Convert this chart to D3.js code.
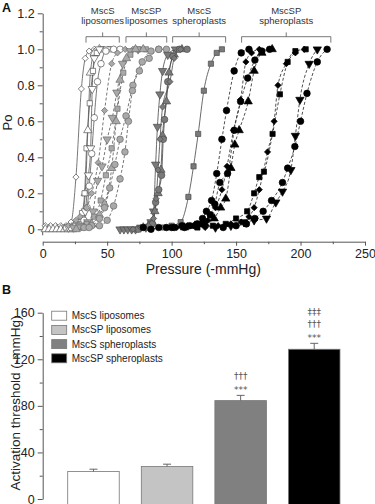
<!DOCTYPE html>
<html>
<head>
<meta charset="utf-8">
<script src="https://cdn.jsdelivr.net/npm/d3@7"></script>
<style>
body { margin: 0; background: #fff; }
svg { display: block; font-family: "Liberation Sans", Arial, sans-serif; }
</style>
</head>
<body>
<svg id="chart" width="375" height="504"></svg>
<script>
// ---------- Panel A data: [pressure (-mmHg), Po] ----------
// MscS liposomes (white, solid fits)
const wDiamond = [[2,0.02],[6,0.02],[10,0.02],[14,0.02],[18,0.02],[22,0.04],[25.8,0.29],[30,0.78],[33,0.95],[36,0.99],[40,1.0]];
const wTriUp = [[2,0],[5,0],[8,0],[11,0],[14,0],[17,0],[20,0],[23,0],[26,0.01],[30,0.05],[33,0.2],[35,0.55],[37,0.87],[40,0.98],[44,1.0]];
const wSquare = [[18,0.01],[24,0.02],[28,0.04],[30.5,0.09],[32.5,0.2],[34,0.45],[36.5,0.7],[39,0.88],[42,0.98],[46,1.0],[52,1.0]];
const wTriDown = [[20,0.01],[26,0.02],[30,0.03],[33,0.1],[35.5,0.3],[37.2,0.45],[38.4,0.78],[40,0.95],[44,1.0],[50,1.0]];
const wCircle = [[22,0.01],[28,0.02],[32,0.05],[34.5,0.12],[36.1,0.24],[38,0.42],[40,0.62],[42.5,0.82],[45.2,0.92],[49,0.99],[55,1.0],[60,1.0]];

// MscSP liposomes (light grey, dashed fits)
const lDiamond = [[20,0.02],[25.8,0.05],[29,0.07],[34,0.12],[38,0.2],[43,0.37],[48,0.66],[53.5,0.92],[58,0.98],[64,1.0],[70,1.0]];
const lTriDown = [[24,0.01],[30,0.02],[35,0.04],[39,0.1],[42.6,0.27],[46,0.35],[50,0.5],[54,0.62],[57.5,0.76],[62,0.92],[68,0.99],[74,1.0]];
const lSquare = [[28,0.01],[34,0.03],[40,0.07],[45,0.16],[49,0.3],[53.5,0.45],[58,0.67],[62.5,0.87],[68,0.97],[74,1.0],[80,1.0]];
const lTriUp = [[26,0],[32,0.01],[38,0.03],[44,0.08],[48,0.14],[53.5,0.34],[57,0.6],[60,0.83],[65,0.95],[72,1.0],[78,1.0]];
const lCircle = [[32,0.01],[38,0.02],[44,0.06],[48,0.12],[52,0.23],[56,0.36],[60,0.5],[64.6,0.63],[70,0.8],[77.2,0.93],[84,0.99],[90,1.0]];
const lCircle2 = [[36,0.01],[44,0.02],[50,0.05],[55,0.13],[60,0.28],[63.8,0.43],[66.5,0.6],[69.6,0.77],[75,0.88],[82.6,0.95],[90,1.0],[96,1.0]];

// MscS spheroplasts (dark grey, solid fits)
const dTriDown = [[60,0],[63,0],[66,0],[69,0],[72,0],[76,0.01],[80,0.01],[84,0.04],[86,0.1],[87.6,0.36],[89,0.57],[90.9,0.75],[93,0.88],[97,0.97],[103,1.0]];
const dTriUp = [[78,0.01],[82,0.02],[85,0.04],[87,0.1],[89.5,0.2],[91.7,0.33],[93,0.52],[96,0.71],[98,0.87],[102,0.97],[108,1.0]];
const dCircle = [[74,0],[80,0.01],[85,0.03],[87.6,0.15],[90,0.22],[92.2,0.3],[93.5,0.5],[94.5,0.61],[97,0.82],[101,0.96],[106,1.0],[112,1.0]];
const dDiamond = [[70,0],[76,0.01],[82,0.02],[86,0.06],[88,0.17],[89.5,0.33],[91,0.5],[93,0.68],[98.7,0.82],[102,0.95],[107,1.0]];
const dSquare = [[94,0.01],[100,0.02],[107,0.04],[113,0.18],[117,0.35],[120.6,0.53],[125,0.77],[130.5,0.92],[135,0.98],[139,1.0]];

// MscSP spheroplasts (black, dashed fits)
const bCircle1 = [[78,0.01],[84,0],[90,0.01],[96,0.01],[102,0.01],[108,0.02],[114,0.02],[120,0.03],[124,0.06],[127,0.1],[131,0.16],[135,0.31],[139,0.5],[142.6,0.66],[148.5,0.88],[154,0.98],[160,1.0]];
const bCircle2 = [[100,0.01],[110,0.01],[118,0.02],[124,0.03],[130,0.08],[133.5,0.14],[137.4,0.26],[143.4,0.31],[148.5,0.55],[153.5,0.71],[159,0.84],[164.6,0.94],[170,0.99],[176,1.0]];
const bDiamond1 = [[104,0.01],[112,0.02],[120,0.02],[128,0.05],[134,0.12],[139,0.22],[143,0.35],[148,0.55],[153.5,0.72],[157.6,0.93],[162,0.98],[168,1.0]];
const bTriUp = [[110,0.01],[118,0.02],[126,0.03],[133,0.06],[138,0.12],[142,0.17],[146,0.34],[149,0.47],[152.4,0.55],[159.4,0.71],[164,0.88],[170,0.98],[178,1.0]];
const bDiamond2 = [[126,0.01],[136,0.02],[146,0.03],[154,0.04],[160,0.07],[164,0.12],[168,0.22],[174.4,0.43],[179.5,0.6],[182.5,0.8],[189,0.92],[196,0.98],[203,1.0]];
const bSquare = [[120,0.01],[132,0.02],[142,0.03],[150,0.06],[158.6,0.1],[164,0.2],[168,0.29],[171.6,0.32],[178.3,0.53],[184,0.75],[190,0.93],[196,0.99],[204,1.0]];
const bTriDown = [[134,0.01],[146,0.02],[156,0.04],[164,0.05],[173.6,0.06],[180.8,0.15],[186,0.21],[192.5,0.33],[196,0.52],[199.5,0.72],[206.7,0.92],[213,1.0]];
const bCircle3 = [[140,0.01],[150,0.02],[158,0.03],[164.5,0.06],[171,0.1],[177.5,0.16],[186,0.26],[190,0.34],[195.6,0.46],[200,0.6],[205,0.755],[213,0.93],[220.6,1.0]];

const seriesA = [
  {group: "mscsLipo", shape: "diamond", data: wDiamond},
  {group: "mscsLipo", shape: "triUp", data: wTriUp},
  {group: "mscsLipo", shape: "square", data: wSquare},
  {group: "mscsLipo", shape: "triDown", data: wTriDown},
  {group: "mscsLipo", shape: "circle", data: wCircle},
  {group: "mscspLipo", shape: "diamond", data: lDiamond},
  {group: "mscspLipo", shape: "triDown", data: lTriDown},
  {group: "mscspLipo", shape: "square", data: lSquare},
  {group: "mscspLipo", shape: "triUp", data: lTriUp},
  {group: "mscspLipo", shape: "circle", data: lCircle},
  {group: "mscspLipo", shape: "circle", data: lCircle2},
  {group: "mscsSphero", shape: "triDown", data: dTriDown},
  {group: "mscsSphero", shape: "triUp", data: dTriUp},
  {group: "mscsSphero", shape: "circle", data: dCircle},
  {group: "mscsSphero", shape: "diamond", data: dDiamond},
  {group: "mscsSphero", shape: "square", data: dSquare},
  {group: "mscspSphero", shape: "circle", data: bCircle1},
  {group: "mscspSphero", shape: "circle", data: bCircle2},
  {group: "mscspSphero", shape: "diamond", data: bDiamond1},
  {group: "mscspSphero", shape: "triUp", data: bTriUp},
  {group: "mscspSphero", shape: "diamond", data: bDiamond2},
  {group: "mscspSphero", shape: "square", data: bSquare},
  {group: "mscspSphero", shape: "triDown", data: bTriDown},
  {group: "mscspSphero", shape: "circle", data: bCircle3}
];

// bracket annotations (pressure range covered, two text lines)
const groupLine1 = ["MscS", "MscSP", "MscS", "MscSP"];
const groupLine2 = ["liposomes", "liposomes", "spheroplasts", "spheroplasts"];
const groupRanges = [[33.6, 59.4], [64.6, 96.2], [100.8, 141.9], [154.3, 223.5]];

const xTicksA = [0, 50, 100, 150, 200, 250];
const xMinorA = [25, 75, 125, 175, 225];
const yTicksA = [0, 0.2, 0.4, 0.6, 0.8, 1.0, 1.2];
const yMinorA = [0.1, 0.3, 0.5, 0.7, 0.9, 1.1];

// ---------- Panel B data ----------
const barLabels = ["MscS liposomes", "MscSP liposomes", "MscS spheroplasts", "MscSP spheroplasts"];
const barValues = [23.6, 27.9, 84.5, 128.6];
const barErrors = [2.0, 2.0, 4.5, 5.1];
const barSignif = [[], [], ["***", "\u2020\u2020\u2020"], ["***", "\u2020\u2020\u2020", "\u2021\u2021\u2021"]];
const yTicksB = [0, 40, 80, 120, 160];
const yMinorB = [20, 60, 100, 140];

// ---------- styles ----------
const groupStyle = {
  mscsLipo:    {fill: "#ffffff", stroke: "#555", line: "#555", dash: null},
  mscspLipo:   {fill: "#a9a9a9", stroke: "#6a6a6a", line: "#555", dash: "3,2"},
  mscsSphero:  {fill: "#7a7a7a", stroke: "#4a4a4a", line: "#444", dash: null},
  mscspSphero: {fill: "#000000", stroke: "#000", line: "#222", dash: "3,2"}
};
const barFill = ["#ffffff", "#c4c4c4", "#808080", "#000000"];
const axisColor = "#555";
const textColor = "#222";

const svg = d3.select("#chart");

function styleAxis(g, size) {
  g.attr("font-family", null).attr("font-size", null);
  g.selectAll(".domain").attr("stroke", axisColor);
  g.selectAll(".tick line").attr("stroke", axisColor);
  g.selectAll(".tick text").attr("fill", textColor).style("font-size", size + "px");
}

// ================= Panel A =================
const xA = d3.scaleLinear().domain([0, 250]).range([42.7, 365]);
const yA = d3.scaleLinear().domain([0, 1.2]).range([229.3, 13.3]);
const xAxisY = 241.7;

svg.append("g")
  .attr("transform", `translate(${xA(0)},0)`)
  .call(d3.axisLeft(yA).tickValues(yTicksA).tickSize(5).tickSizeOuter(0).tickPadding(3)
    .tickFormat(d => d === 0 ? "0" : d3.format(".1f")(d)))
  .call(g => styleAxis(g, 12.5));
svg.append("g")
  .attr("transform", `translate(${xA(0)},0)`)
  .call(d3.axisLeft(yA).tickValues(yMinorA).tickSize(3).tickFormat(""))
  .call(g => { g.select(".domain").remove(); g.selectAll(".tick line").attr("stroke", axisColor); });
// extend y axis line a little below zero
svg.append("line")
  .attr("x1", xA(0)).attr("x2", xA(0))
  .attr("y1", yA(0)).attr("y2", yA(-0.033))
  .attr("stroke", axisColor);

svg.append("g")
  .attr("transform", `translate(0,${xAxisY})`)
  .call(d3.axisBottom(xA).tickValues(xTicksA).tickSize(4).tickSizeOuter(0).tickPadding(3))
  .call(g => styleAxis(g, 12.5));
svg.append("g")
  .attr("transform", `translate(0,${xAxisY})`)
  .call(d3.axisBottom(xA).tickValues(xMinorA).tickSize(2.5).tickFormat(""))
  .call(g => { g.select(".domain").remove(); g.selectAll(".tick line").attr("stroke", axisColor); });

svg.append("text")
  .attr("x", (xA(0) + xA(250)) / 2 - 0.5)
  .attr("y", 274)
  .attr("text-anchor", "middle")
  .attr("fill", textColor)
  .style("font-size", "14px")
  .text("Pressure (-mmHg)");

svg.append("text")
  .attr("transform", "translate(11.5,122.5) rotate(-90)")
  .attr("text-anchor", "middle")
  .attr("fill", textColor)
  .style("font-size", "13px")
  .text("Po");

svg.append("text")
  .attr("x", 2).attr("y", 12)
  .attr("fill", "#111")
  .style("font-size", "12.5px").style("font-weight", "bold")
  .text("A");

// fit lines
const lineA = d3.line()
  .x(d => xA(d[0]))
  .y(d => yA(d[1]))
  .curve(d3.curveMonotoneX);

const plotA = svg.append("g");
plotA.selectAll("path.fit")
  .data(seriesA)
  .join("path")
  .attr("class", "fit")
  .attr("d", d => lineA(d.data))
  .attr("fill", "none")
  .attr("stroke", d => groupStyle[d.group].line)
  .attr("stroke-width", 0.8)
  .attr("stroke-dasharray", d => groupStyle[d.group].dash);

// markers
const symbolType = {circle: d3.symbolCircle, square: d3.symbolSquare, diamond: d3.symbolSquare, triUp: d3.symbolTriangle, triDown: d3.symbolTriangle};
const symbolSize = {circle: 34, square: 27, diamond: 19, triUp: 30, triDown: 30};
const symbolRot = {circle: 0, square: 0, diamond: 45, triUp: 0, triDown: 180};

const points = seriesA.flatMap(s => s.data.map(p => ({p: p, shape: s.shape, group: s.group})));
plotA.selectAll("path.pt")
  .data(points)
  .join("path")
  .attr("class", "pt")
  .attr("d", d => d3.symbol().type(symbolType[d.shape]).size(symbolSize[d.shape])())
  .attr("transform", d => `translate(${xA(d.p[0])},${yA(d.p[1])}) rotate(${symbolRot[d.shape]})`)
  .attr("fill", d => groupStyle[d.group].fill)
  .attr("stroke", d => groupStyle[d.group].stroke)
  .attr("stroke-width", 0.7);

// brackets with labels
const brackets = svg.append("g");
groupRanges.forEach((r, i) => {
  const x0 = xA(r[0]), x1 = xA(r[1]), xm = (x0 + x1) / 2;
  const yb = yA(1.07), yEnd = yA(1.037), yTop = yA(1.094);
  brackets.append("path")
    .attr("d", `M${x0},${yEnd}V${yb}H${x1}V${yEnd}M${xm},${yb}V${yTop}`)
    .attr("fill", "none")
    .attr("stroke", "#555")
    .attr("stroke-width", 0.8);
  brackets.append("text")
    .attr("x", xm).attr("y", yTop - 18.5)
    .attr("text-anchor", "middle")
    .attr("fill", "#333")
    .style("font-size", "9.5px")
    .text(groupLine1[i]);
  brackets.append("text")
    .attr("x", xm).attr("y", yTop - 8)
    .attr("text-anchor", "middle")
    .attr("fill", "#333")
    .style("font-size", "9.5px")
    .text(groupLine2[i]);
});

// ================= Panel B =================
const xB = d3.scaleBand().domain(barLabels).range([42.7, 365]).paddingInner(0.3).paddingOuter(0.34);
const yB = d3.scaleLinear().domain([0, 160]).range([499, 312.7]);

svg.append("g")
  .attr("transform", `translate(${xA(0)},0)`)
  .call(d3.axisLeft(yB).tickValues(yTicksB).tickSize(5).tickSizeOuter(0).tickPadding(3))
  .call(g => styleAxis(g, 12.5));
svg.append("g")
  .attr("transform", `translate(${xA(0)},0)`)
  .call(d3.axisLeft(yB).tickValues(yMinorB).tickSize(3).tickFormat(""))
  .call(g => { g.select(".domain").remove(); g.selectAll(".tick line").attr("stroke", axisColor); });

svg.append("text")
  .attr("transform", "translate(19.5,403) rotate(-90)")
  .attr("text-anchor", "middle")
  .attr("fill", textColor)
  .style("font-size", "13.5px")
  .text("Activation threshold (-mmHg)");

svg.append("text")
  .attr("x", 2).attr("y", 293.5)
  .attr("fill", "#111")
  .style("font-size", "12.5px").style("font-weight", "bold")
  .text("B");

const bars = svg.append("g");
bars.selectAll("rect")
  .data(barLabels)
  .join("rect")
  .attr("x", d => xB(d))
  .attr("width", xB.bandwidth())
  .attr("y", (d, i) => yB(barValues[i]))
  .attr("height", (d, i) => 506 - yB(barValues[i]))
  .attr("fill", (d, i) => barFill[i])
  .attr("stroke", "#777")
  .attr("stroke-width", 0.8);

// error bars
bars.selectAll("path.err")
  .data(barLabels)
  .join("path")
  .attr("class", "err")
  .attr("d", (d, i) => {
    const cx = xB(d) + xB.bandwidth() / 2;
    const y0 = yB(barValues[i]), y1 = yB(barValues[i] + barErrors[i]);
    return `M${cx},${y0}V${y1}M${cx - 4},${y1}H${cx + 4}`;
  })
  .attr("fill", "none")
  .attr("stroke", "#666")
  .attr("stroke-width", 1);

// significance marks
barLabels.forEach((d, i) => {
  const cx = xB(d) + xB.bandwidth() / 2;
  const top = yB(barValues[i] + barErrors[i]);
  barSignif[i].forEach((s, j) => {
    bars.append("text")
      .attr("x", cx).attr("y", top - 2 - (j === 0 ? 0 : 14 + (j - 1) * 12))
      .attr("text-anchor", "middle")
      .attr("fill", "#555")
      .style("font-family", "'DejaVu Sans', sans-serif")
      .style("font-size", "9px")
      .text(s);
  });
});

// legend
const legend = svg.append("g");
barLabels.forEach((d, i) => {
  const cy = 315.7 + i * 14.2;
  legend.append("rect")
    .attr("x", 51.7).attr("y", cy - 4.5)
    .attr("width", 15).attr("height", 9)
    .attr("fill", barFill[i])
    .attr("stroke", "#777")
    .attr("stroke-width", 0.8);
  legend.append("text")
    .attr("x", 71.7).attr("y", cy + 3.5)
    .attr("fill", textColor)
    .style("font-size", "10px")
    .text(d);
});
</script>
</body>
</html>
